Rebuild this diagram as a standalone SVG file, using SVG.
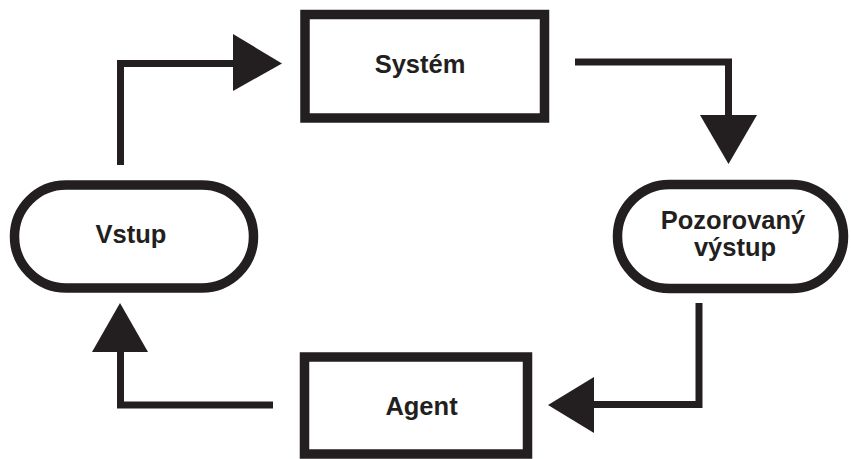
<svg xmlns="http://www.w3.org/2000/svg" width="851" height="459" viewBox="0 0 851 459">
<style>
.node{fill:#fff;stroke:#231f20;stroke-width:9.5}
.lbl{font-family:"Liberation Sans",Arial,sans-serif;font-weight:bold;font-size:25.5px;fill:#231f20;text-anchor:middle}
.line{fill:none;stroke:#231f20;stroke-width:7;stroke-linejoin:miter;stroke-linecap:butt}
.head{fill:#231f20}
</style>
<rect width="851" height="459" fill="#fff"/>
<g id="connectors">
<polyline class="line" points="120.5,165 120.5,63.5 234,63.5"/>
<polygon class="head" points="233,34 282,63.5 233,91"/>
<polyline class="line" points="575,62 728.5,62 728.5,116"/>
<polygon class="head" points="700,115 757,115 728.5,164"/>
<polyline class="line" points="699,303 699,404.5 593,404.5"/>
<polygon class="head" points="594,377 594,433 548,405"/>
<polyline class="line" points="273,405 120.5,405 120.5,351"/>
<polygon class="head" points="92,352 148,352 120,303"/>
</g>
<g id="system">
<rect class="node" x="305" y="14.5" width="239.5" height="103.5"/>
<text class="lbl" x="420" y="73">Systém</text>
</g>
<g id="pozorovany">
<rect class="node" x="617.5" y="184.5" width="226" height="104" rx="52"/>
<text class="lbl" x="733" y="229">Pozorovaný</text>
<text class="lbl" x="735" y="256">výstup</text>
</g>
<g id="agent">
<rect class="node" x="304.5" y="357" width="223" height="97"/>
<text class="lbl" x="421.5" y="415">Agent</text>
</g>
<g id="vstup">
<rect class="node" x="14.5" y="185" width="239" height="103" rx="51.5"/>
<text class="lbl" x="131" y="243">Vstup</text>
</g>
</svg>
